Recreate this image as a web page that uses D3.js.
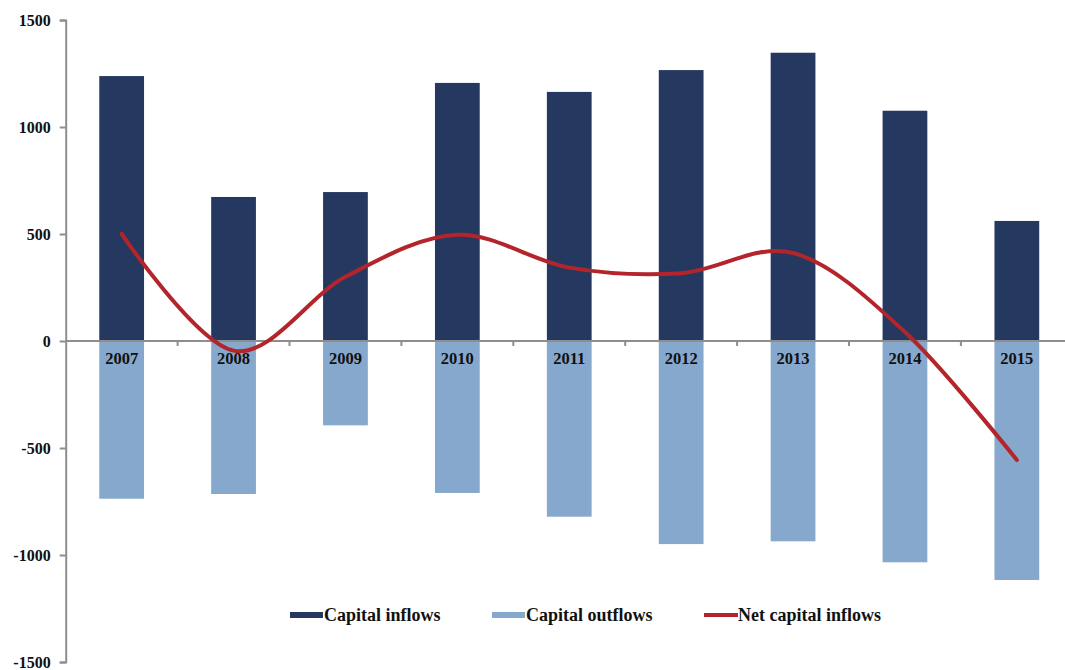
<!DOCTYPE html>
<html>
<head>
<meta charset="utf-8">
<script src="https://cdn.jsdelivr.net/npm/d3@7.9.0/dist/d3.min.js"></script>
<style>
  html, body { margin: 0; padding: 0; background: #fff; }
  svg { display: block; }
  text { font-family: "Liberation Serif", "Times New Roman", serif; font-weight: bold; fill: #111; }
</style>
</head>
<body>
<svg id="chart" width="1065" height="670"></svg>
<script>
// values (billions)
const years = ['2007', '2008', '2009', '2010', '2011', '2012', '2013', '2014', '2015'];
const inflows = [1238, 673, 696, 1206, 1164, 1266, 1347, 1076, 561];
const outflows = [-737, -715, -394, -710, -821, -949, -936, -1034, -1117];
const netInflows = [501, -45, 300, 496, 343, 317, 411, 42, -556];
const yTicks = [-1500, -1000, -500, 0, 500, 1000, 1500];
const legendItems = [
  { label: 'Capital inflows', kind: 'bar', color: '#253860' },
  { label: 'Capital outflows', kind: 'bar', color: '#86a8cc' },
  { label: 'Net capital inflows', kind: 'line', color: '#b3252b' }
];

const svg = d3.select('#chart');

const x = d3.scaleBand()
  .domain(years)
  .range([65.7, 1072.8])
  .paddingInner(0.6)
  .paddingOuter(0.3);

const y = d3.scaleLinear().domain([-1500, 1500]).range([662, 20]);

const axisColor = '#8e8e8e';

// bars
svg.append('g')
  .selectAll('rect')
  .data(years)
  .join('rect')
  .attr('x', (d) => x(d))
  .attr('width', x.bandwidth())
  .attr('y', (d, i) => y(inflows[i]))
  .attr('height', (d, i) => y(0) - y(inflows[i]))
  .attr('fill', legendItems[0].color);

svg.append('g')
  .selectAll('rect')
  .data(years)
  .join('rect')
  .attr('x', (d) => x(d))
  .attr('width', x.bandwidth())
  .attr('y', y(0))
  .attr('height', (d, i) => y(outflows[i]) - y(0))
  .attr('fill', legendItems[1].color);

// y axis
const yAxis = svg.append('g')
  .attr('transform', `translate(${x.range()[0]},0)`)
  .call(d3.axisLeft(y).tickValues(yTicks).tickSize(6).tickPadding(9).tickFormat((d) => String(d)));
yAxis.select('.domain').attr('stroke', axisColor).attr('stroke-width', 2);
yAxis.selectAll('.tick line').attr('stroke', axisColor).attr('stroke-width', 2);
yAxis.selectAll('text').attr('font-size', 16).attr('fill', '#111')
  .attr('font-family', '"Liberation Serif", serif').attr('font-weight', 'bold');

// x axis (line at zero, ticks between categories)
const step = x.step();
const bounds = d3.range(years.length + 1).map((i) => x.range()[0] + i * step);
svg.append('line')
  .attr('x1', x.range()[0]).attr('x2', x.range()[1])
  .attr('y1', y(0)).attr('y2', y(0))
  .attr('stroke', axisColor).attr('stroke-width', 2);
svg.append('g')
  .selectAll('line')
  .data(bounds.slice(1))
  .join('line')
  .attr('x1', (d) => d).attr('x2', (d) => d)
  .attr('y1', y(0)).attr('y2', y(0) + 5)
  .attr('stroke', axisColor).attr('stroke-width', 2);

svg.append('g')
  .selectAll('text')
  .data(years)
  .join('text')
  .attr('x', (d) => x(d) + x.bandwidth() / 2)
  .attr('y', y(0) + 23)
  .attr('text-anchor', 'middle')
  .attr('font-size', 16.5)
  .text((d) => d);

// net line
const line = d3.line()
  .x((d, i) => x(years[i]) + x.bandwidth() / 2)
  .y((d) => y(d))
  .curve(d3.curveCardinal.tension(0));

svg.append('path')
  .datum(netInflows)
  .attr('d', line)
  .attr('fill', 'none')
  .attr('stroke', legendItems[2].color)
  .attr('stroke-width', 4)
  .attr('stroke-linecap', 'round');

// legend
const legendX = [290, 492, 704];
const legendY = 615;
const lg = svg.append('g');
legendItems.forEach((item, i) => {
  const g = lg.append('g').attr('transform', `translate(${legendX[i]},${legendY})`);
  if (item.kind === 'bar') {
    g.append('rect').attr('x', 0).attr('y', -3).attr('width', 33).attr('height', 6).attr('fill', item.color);
  } else {
    g.append('line').attr('x1', 0).attr('x2', 34).attr('y1', 0).attr('y2', 0)
      .attr('stroke', item.color).attr('stroke-width', 4);
  }
  g.append('text')
    .attr('x', 34)
    .attr('y', 6)
    .attr('font-size', 18)
    .text(item.label);
});
</script>
</body>
</html>
